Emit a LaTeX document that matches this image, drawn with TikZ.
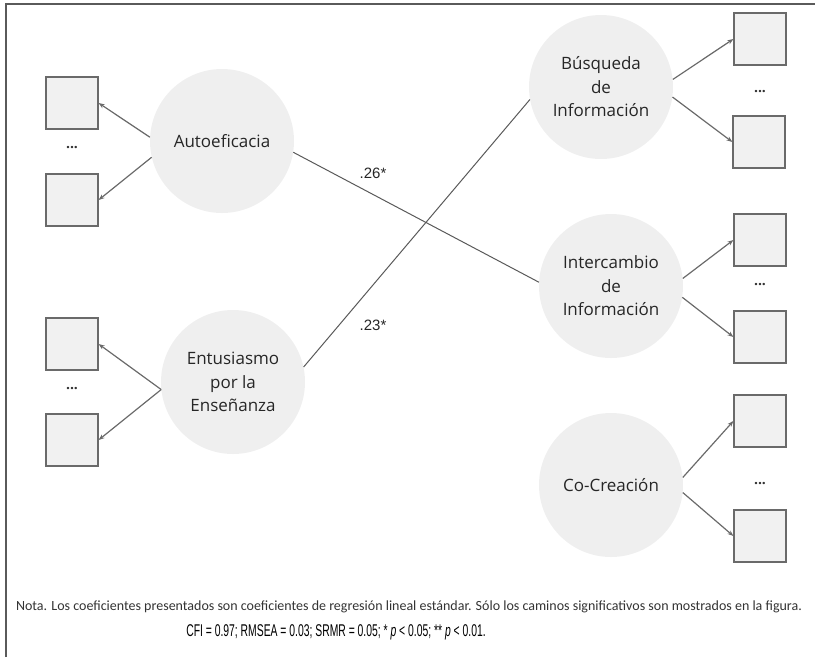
\documentclass[tikz,border=0pt]{standalone}
\usepackage{fontspec}
\setmainfont{Open Sans}
\newfontfamily\notafont{Carlito}
\newfontfamily\narrowfont[FakeStretch=0.61]{Liberation Sans}
\newfontfamily\coeffont{Liberation Sans}
\usetikzlibrary{arrows.meta}

\definecolor{latfill}{HTML}{EFEFEF}
\definecolor{indfill}{HTML}{F1F1F1}
\definecolor{lineg}{HTML}{6A6A6A}
\definecolor{frameg}{HTML}{5A5A5A}

\tikzset{
  latent/.style={circle, fill=latfill, minimum size=144pt, inner sep=0pt, align=center,
    text=black!85, font=\fontsize{17}{23.5}\selectfont},
  indic/.style={draw=lineg, line width=1.2pt, fill=indfill, minimum size=52pt, inner sep=0pt},
  ldots/.style={text=black!80, font=\bfseries\fontsize{14}{14}\selectfont},
  load/.style={draw=lineg, line width=1.2pt, -{Stealth[length=6pt,width=4.5pt]}},
  regpath/.style={draw=black!65, line width=1pt},
  coef/.style={font=\coeffont\fontsize{15}{15}\selectfont, text=black!85}
}

\begin{document}
\begin{tikzpicture}[x=1pt,y=-1pt]
\useasboundingbox (0,0) rectangle (815,657);
\draw[frameg, line width=1.5pt] (6,657) -- (6,4) -- (815,4);

% latent factors
\node[latent] (auto) at (222,141) {Autoeficacia};
\node[latent] (entu) at (233,382) {Entusiasmo\\por la\\Enseñanza};
\node[latent] (busq) at (601,87) {Búsqueda\\de\\Información};
\node[latent] (inter) at (611,286) {Intercambio\\de\\Información};
\node[latent] (cocre) at (611,485) {Co-Creación};

% indicators left
\node[indic] (auto1) at (72,103) {};
\node[ldots] (autod) at (72,148) {...};
\node[indic] (auto2) at (72,200) {};
\node[indic] (entu1) at (72,344) {};
\node[ldots] (entud) at (72,389) {...};
\node[indic] (entu2) at (72,440) {};

% indicators right
\node[indic] (busq1) at (760,39) {};
\node[ldots] (busqd) at (760,92) {...};
\node[indic] (busq2) at (759,142) {};
\node[indic] (inter1) at (760,240) {};
\node[ldots] (interd) at (760,285) {...};
\node[indic] (inter2) at (760,337) {};
\node[indic] (cocre1) at (760,421) {};
\node[ldots] (cocred) at (760,484) {...};
\node[indic] (cocre2) at (760,536) {};

% loadings
\draw[load] (auto.177) -- (auto1.east);
\draw[load] (auto.193) -- (auto2.east);
\draw[load] (entu.186) -- (entu1.east);
\draw[load] (entu.186) -- (entu2.east);
\draw[load] (busq.6) -- (busq1.west);
\draw[load] (busq.-8) -- (busq2.west);
\draw[load] (inter.6) -- (inter1.west);
\draw[load] (inter.-9) -- (inter2.west);
\draw[load] (cocre.6) -- (cocre1.west);
\draw[load] (cocre.-6) -- (cocre2.west);

% regression paths
\draw[regpath] (auto.-9) -- (inter.177);
\draw[regpath] (entu.12) -- (busq.190);
\node[coef] (c26) at (373,173) {.26*};
\node[coef] (c23) at (373,325) {.23*};

% note
\node[font=\notafont\fontsize{14}{14}\selectfont, text=black!80] (nota) at (409,607)
  {Nota. Los coeficientes presentados son coeficientes de regresión lineal estándar. Sólo los caminos significativos son mostrados en la figura.};
\node[font=\narrowfont\fontsize{17}{17}\selectfont] (ajuste) at (336,632)
  {CFI = 0.97; RMSEA = 0.03; SRMR = 0.05; * \textit{p} < 0.05; ** \textit{p} < 0.01.};

\end{tikzpicture}
\end{document}
